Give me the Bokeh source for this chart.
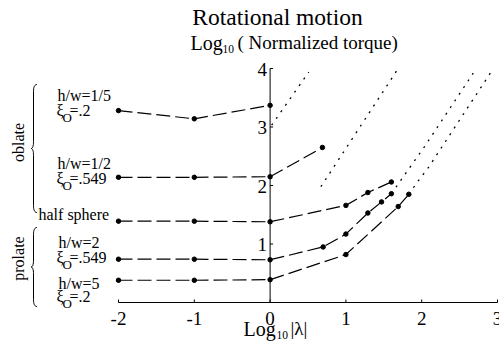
import math

from bokeh.plotting import figure
from bokeh.models import Range1d, Label
from bokeh.core.properties import value
from bokeh.embed import file_html
from bokeh.resources import INLINE

# ---- data: log10 |lambda| vs log10 normalized torque -------------------
lam_hw_1_5 = [-2, -1, 0]
tq_hw_1_5 = [3.28, 3.14, 3.37]

lam_hw_1_2 = [-2, -1, 0, 0.69]
tq_hw_1_2 = [2.14, 2.14, 2.15, 2.65]

lam_half = [-2, -1, 0, 1.0, 1.29, 1.60]
tq_half = [1.39, 1.39, 1.38, 1.66, 1.88, 2.06]

lam_hw_2 = [-2, -1, 0, 0.70, 1.0, 1.29, 1.47, 1.60]
tq_hw_2 = [0.74, 0.74, 0.73, 0.95, 1.17, 1.53, 1.72, 1.86]

lam_hw_5 = [-2, -1, 0, 1.0, 1.69, 1.83]
tq_hw_5 = [0.38, 0.38, 0.39, 0.82, 1.64, 1.85]

# high-frequency asymptotes (dotted)
asym_1_5_lam = [0.02, 0.51]
asym_1_5_tq = [3.03, 3.94]
asym_1_2_lam = [0.67, 1.70]
asym_1_2_tq = [1.98, 4.02]
asym_2_lam = [1.60, 2.04, 2.68]
asym_2_tq = [1.86, 2.67, 3.92]
asym_5_lam = [1.83, 1.95, 2.09, 2.93]
asym_5_tq = [1.85, 2.07, 2.31, 3.97]

x_ticks = [-2, -1, 0, 1, 2, 3]
x_tick_labels = ["-2", "-1", "0", "1", "2", "3"]
y_ticks = [1, 2, 3, 4]
y_tick_labels = ["1", "2", "3", "4"]
y_axis_top = 4

# ---- frame geometry (the frame fills the whole canvas) ---------------
W, H = 499, 349
PX_X = 75.8          # pixels per decade along x
PX_Y = 58.5          # pixels per decade along y
ORIGIN_PX = 118      # canvas x of log10|lambda| = -2
BASE_PY = 302        # canvas y of torque axis zero
X0 = -2 - ORIGIN_PX / PX_X
X1 = X0 + W / PX_X
Y1 = BASE_PY / PX_Y
Y0 = Y1 - H / PX_Y
LIFT = 0.3           # text sits this many ems lower than its nominal baseline


def dx(px):
    return X0 + px / PX_X


def dy(py):
    return Y1 - py / PX_Y


SERIF = "Liberation Serif"
INK = "black"

p = figure(width=W, height=H, output_backend="svg", toolbar_location=None,
           x_range=Range1d(X0, X1), y_range=Range1d(Y0, Y1),
           x_axis_location=None, y_axis_location=None,
           min_border=0)
p.grid.visible = False
p.outline_line_color = None
p.background_fill_color = "white"
p.border_fill_color = "white"

# ---- axes: bottom axis at torque 0, vertical axis at log10|lambda| = 0 --
tick_dx = 3 / PX_X
tick_dy = 3 / PX_Y
p.segment(x0=[x_ticks[0]], y0=[0], x1=[x_ticks[-1]], y1=[0],
          line_color=INK, line_width=1)
p.segment(x0=x_ticks, y0=[0] * len(x_ticks), x1=x_ticks,
          y1=[tick_dy] * len(x_ticks), line_color=INK, line_width=1)
x_lab_off = (21.5 - LIFT * 19) / PX_Y
p.text(x=x_ticks, y=[-x_lab_off] * len(x_ticks), text=x_tick_labels,
       text_font=value(SERIF), text_font_size="19px", text_color=INK,
       text_align="center", text_baseline="alphabetic")

p.segment(x0=[0], y0=[0], x1=[0], y1=[y_axis_top], line_color=INK,
          line_width=1)
p.segment(x0=[0] * len(y_ticks), y0=y_ticks, x1=[tick_dx] * len(y_ticks),
          y1=y_ticks, line_color=INK, line_width=1)
y_lab_off = (6.5 - LIFT * 19) / PX_Y
p.text(x=[-3 / PX_X] * len(y_ticks), y=[t - y_lab_off for t in y_ticks],
       text=y_tick_labels, text_font=value(SERIF), text_font_size="19px",
       text_color=INK, text_align="right", text_baseline="alphabetic")

# ---- computed curves (dashed with markers) ----------------------------
for xs, ys in [(lam_hw_1_5, tq_hw_1_5), (lam_hw_1_2, tq_hw_1_2),
               (lam_half, tq_half), (lam_hw_2, tq_hw_2), (lam_hw_5, tq_hw_5)]:
    p.line(xs, ys, line_color=INK, line_width=1.2, line_dash="14 5")
    p.scatter(xs, ys, marker="circle", size=4.5, fill_color=INK,
              line_color=INK)

# ---- asymptotes (dotted) ----------------------------------------------
for xs, ys in [(asym_1_5_lam, asym_1_5_tq), (asym_1_2_lam, asym_1_2_tq),
               (asym_2_lam, asym_2_tq), (asym_5_lam, asym_5_tq)]:
    p.line(xs, ys, line_color=INK, line_width=1.3, line_dash="2 6")


# ---- curly braces grouping the shapes ---------------------------------
def brace(xp, top, bottom, arm=3.5, tip=2.5, r=7):
    mid = (top + bottom) / 2.0
    pts = []

    def quad(a, c, b, n=8):
        for i in range(n + 1):
            t = i / n
            pts.append(((1 - t) ** 2 * a[0] + 2 * (1 - t) * t * c[0] + t * t * b[0],
                        (1 - t) ** 2 * a[1] + 2 * (1 - t) * t * c[1] + t * t * b[1]))

    quad((xp + arm, top), (xp, top), (xp, top + r))
    quad((xp, mid - r), (xp, mid), (xp - tip, mid))
    quad((xp - tip, mid), (xp, mid), (xp, mid + r))
    quad((xp, bottom - r), (xp, bottom), (xp + arm, bottom))
    return [dx(a) for a, _ in pts], [dy(b) for _, b in pts]


for top, bottom in [(84, 212), (227, 306)]:
    bx, by = brace(33, top, bottom)
    p.line(bx, by, line_color=INK, line_width=1)


def label(px, py, text, size, align="left", angle=0.0, baseline="alphabetic"):
    if baseline == "alphabetic":
        py -= LIFT * float(size.rstrip("px"))
    p.add_layout(Label(x=dx(px), y=dy(py), text=text, text_font=SERIF,
                       text_font_size=size, text_color=INK,
                       text_align=align, text_baseline=baseline, angle=angle))


def xi_label(px, py, val):
    label(px, py, "\u03be", "16px")
    label(px + 6, py + 6, "O", "13px")
    label(px + 13, py, val, "16px")


# ---- titles -----------------------------------------------------------
label(277, 24, "Rotational motion", "23.5px", align="center")
label(190, 48, "Log", "20px")
label(222, 52, "10", "11.5px")
label(237, 48, "( Normalized torque)", "19px")

# x axis title
label(243, 334, "Log", "20px")
label(276, 338, "10", "11.5px")
label(290, 334, "|\u03bb|", "19px")

# ---- shape annotations ------------------------------------------------
label(57, 100, "h/w=1/5", "16px")
xi_label(56, 115, "=.2")
label(57, 168, "h/w=1/2", "16px")
xi_label(56, 183, "=.549")
label(38, 219, "half sphere", "16px")
label(58, 247, "h/w=2", "16px")
xi_label(56, 262, "=.549")
label(58, 288, "h/w=5", "16px")
xi_label(56, 301, "=.2")

label(18, 142, "oblate", "16px", align="center", angle=math.pi / 2,
      baseline="middle")
label(18, 258, "prolate", "16px", align="center", angle=math.pi / 2,
      baseline="middle")

open("out.html", "w").write(file_html(p, INLINE))
